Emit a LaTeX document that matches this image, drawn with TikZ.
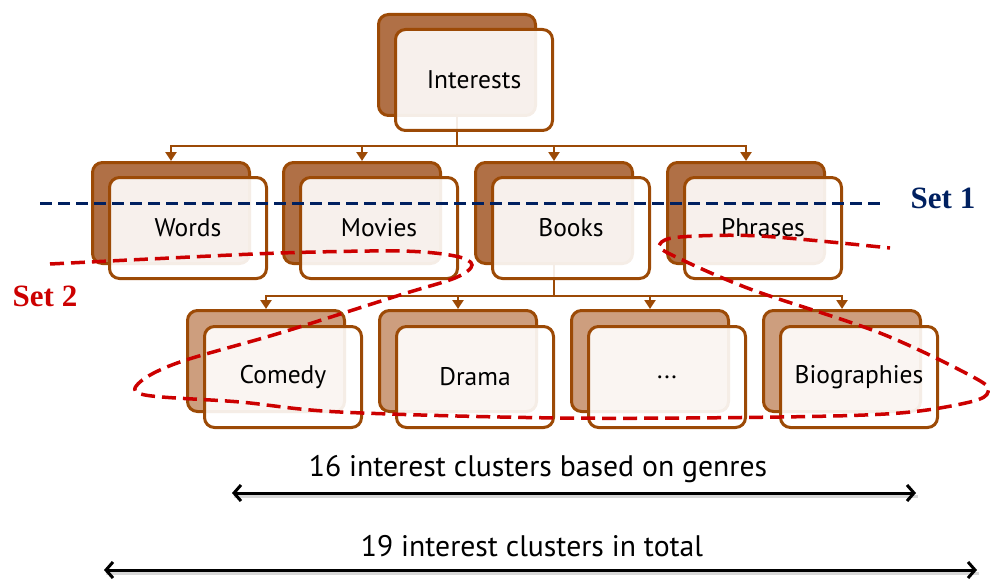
\documentclass[tikz,border=0pt]{standalone}
\usepackage{fontspec}
\usepackage{graphicx}
\setmainfont{PT Sans}
\newfontfamily\setfont{Liberation Serif}
\usetikzlibrary{arrows.meta}
\definecolor{boxedge}{RGB}{156,74,6}
\definecolor{backdark}{RGB}{176,112,70}
\definecolor{backlight}{RGB}{205,158,126}
\definecolor{setblue}{RGB}{0,32,96}
\definecolor{setred}{RGB}{204,0,0}
\begin{document}
\begin{tikzpicture}[x=1pt,y=-1pt,
  card/.style={draw=boxedge, line width=3pt, rounded corners=10pt,
    minimum width=157pt, minimum height=101pt, inner sep=0pt},
  backA/.style={card, fill=backdark},
  backB/.style={card, fill=backlight},
  front/.style={card, fill=white, fill opacity=0.9, text opacity=1,
    font=\fontsize{25.5}{25.5}\selectfont},
  conn/.style={draw=boxedge, line width=2.6pt},
  tip/.style={-{Triangle[length=9pt,width=11pt]}},
  setlabel/.style={font=\setfont\bfseries\fontsize{31}{31}\selectfont},
  note/.style={font=\fontsize{29.7}{29.7}\selectfont},
  span/.style={line width=3pt, {Straight Barb[length=7pt,width=16pt]}-{Straight Barb[length=7pt,width=16pt]}},
  spanshadow/.style={line width=3pt, draw=black!45, opacity=0.35},
  blueset/.style={draw=setblue, line width=3pt, dash pattern=on 12pt off 6pt},
  redset/.style={draw=setred, line width=3.5pt, dash pattern=on 14pt off 7pt}]
\useasboundingbox (0,0) rectangle (990,583);

% back cards
\node[backA] (tb) at (457,65) {};
\node[backA] (wb) at (171,213) {};
\node[backA] (mb) at (362,213) {};
\node[backA] (bb) at (554,213) {};
\node[backA] (pb) at (746,213) {};
\node[backB] (cb) at (266,361) {};
\node[backB] (db) at (458,361) {};
\node[backB] (xb) at (650,361) {};
\node[backB] (gb) at (842,361) {};

% tree connectors
\coordinate (j1) at (457,146);
\coordinate (j2) at (554,296);
\draw[conn] (tb.south) -- (j1);
\foreach \c in {wb,mb,bb,pb} \draw[conn,tip] (j1) -| (\c.north);
\draw[conn] (bb.south) -- (j2);
\foreach \c in {cb,db,xb,gb} \draw[conn,tip] (j2) -| (\c.north);

% front cards
\node[front] (t) at (474,80) {Interests};
\node[front] (w) at (188,228) {Words};
\node[front] (m) at (379,228) {Movies};
\node[front] (b) at (571,228) {Books};
\node[front] (p) at (763,228) {Phrases};
\node[front] (c) at (283,377) {Comedy};
\node[front] (d) at (475,377) {Drama};
\node[front] (x) at (667,377) {...};
\node[front] (g) at (859,377) {Biographies};

% set 1
\node[setlabel, text=setblue] (s1) at (943,198) {Set 1};
\coordinate (s1a) at (40,203);
\coordinate (s1b) at (883,203);
\draw[blueset] (s1a) -- (s1b);

% set 2
\node[setlabel, text=setred] (s2) at (45,296) {Set 2};
\draw[redset] plot[smooth, tension=0.55] coordinates {
  (50,264) (150,259) (280,253) (400,251) (455,256) (472,265) (455,278)
  (400,295) (280,333) (180,362) (140,382) (145,395) (240,402) (340,412)
  (560,418) (780,417) (900,413) (970,402) (988,392) (975,378) (880,333)
  (750,289) (670,254) (660,244) (680,237) (760,236) (890,248)};

% cluster counts
\node[note] (n16) at (538,469) {16 interest clusters based on genres};
\coordinate (a16l) at (232,493);
\coordinate (a16r) at (916,493);
\draw[spanshadow] ([shift={(1.5,3)}]a16l) -- ([shift={(1.5,3)}]a16r);
\draw[span] (a16l) -- (a16r);

\node[note] (n19) at (532,546) {19 interest clusters in total};
\coordinate (a19l) at (104,570);
\coordinate (a19r) at (977,570);
\draw[spanshadow] ([shift={(1.5,3)}]a19l) -- ([shift={(1.5,3)}]a19r);
\draw[span] (a19l) -- (a19r);
\end{tikzpicture}
\end{document}
